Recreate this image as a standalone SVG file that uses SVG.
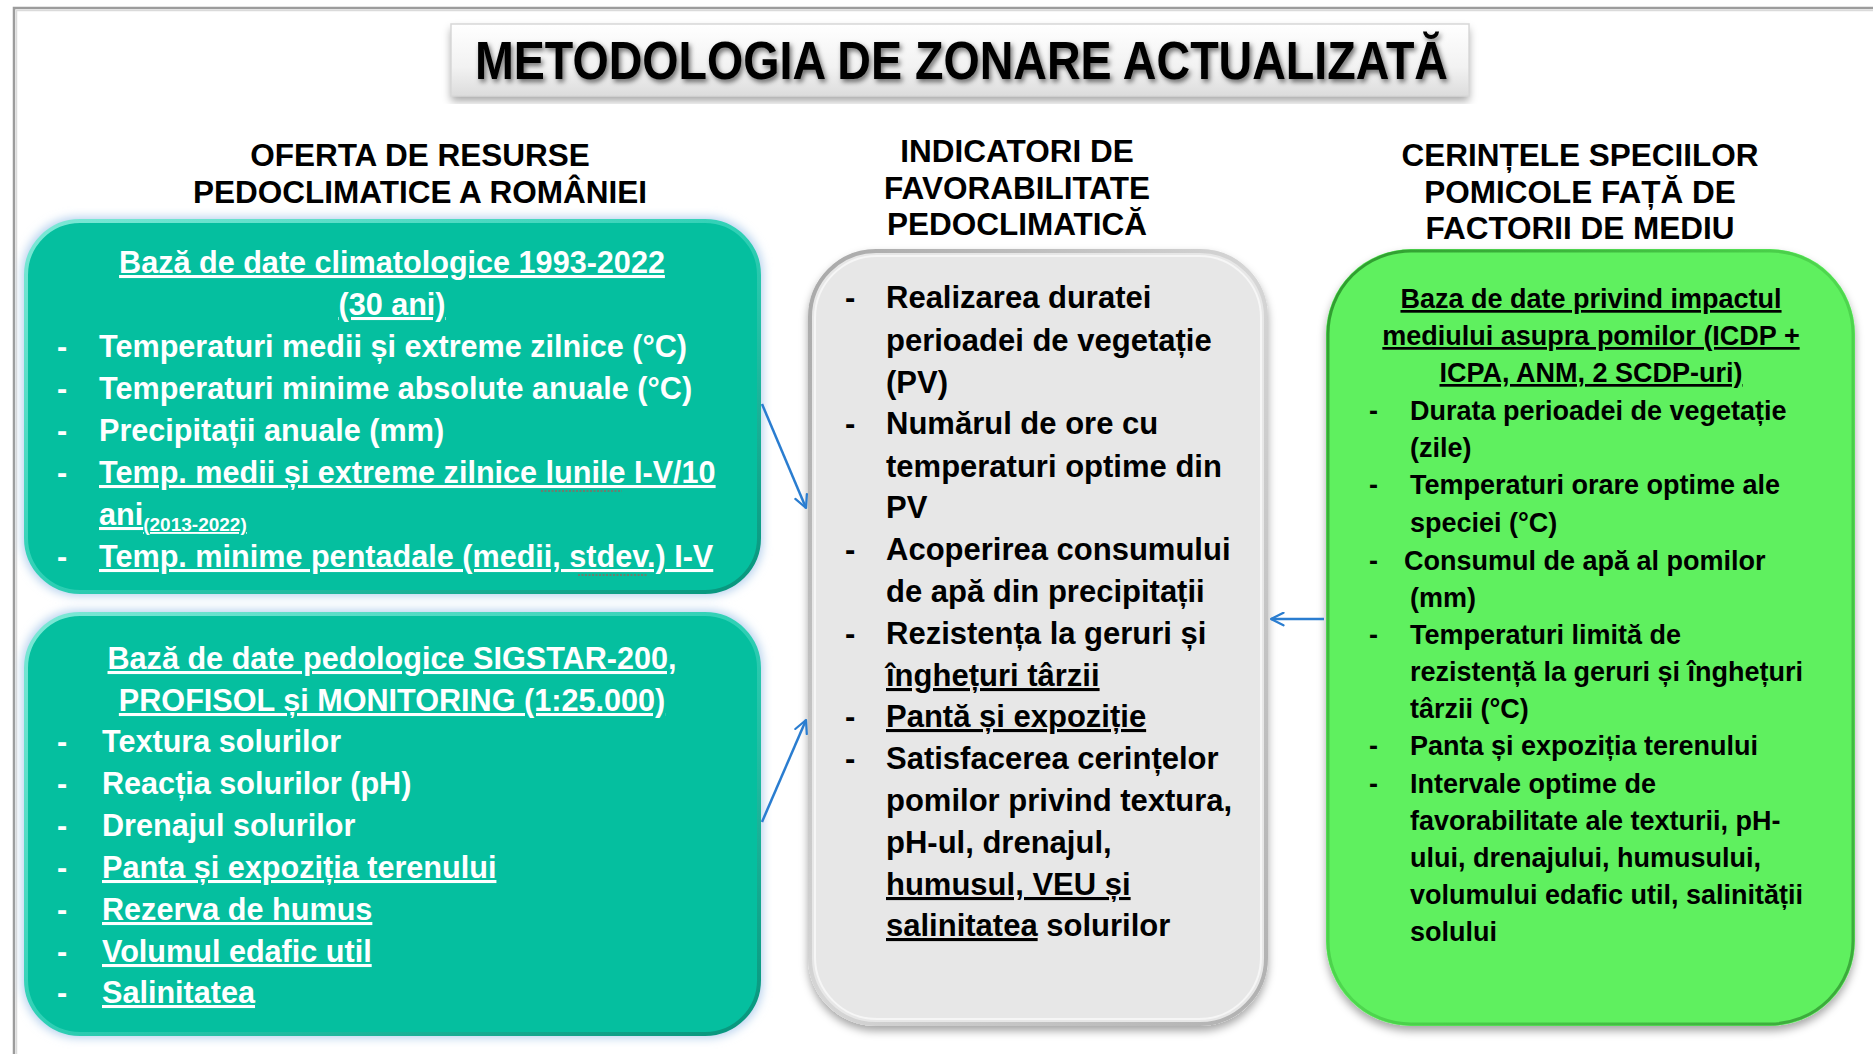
<svg xmlns="http://www.w3.org/2000/svg" width="1873" height="1054" viewBox="0 0 1873 1054">
<defs>
<style>
.hdr{font-family:"Liberation Sans",Arial,sans-serif;font-weight:bold;font-size:31.5px;fill:#000;text-anchor:middle}
.lt{font-family:"Liberation Sans",Arial,sans-serif;font-weight:bold;font-size:30.6px;fill:#fff}
.mt{font-family:"Liberation Sans",Arial,sans-serif;font-weight:bold;font-size:31px;fill:#000}
.rt{font-family:"Liberation Sans",Arial,sans-serif;font-weight:bold;font-size:27px;fill:#000}
.c{text-anchor:middle}
.u{text-decoration:underline}
.conn{fill:none;stroke:#2a7dd0;stroke-width:2.5}
.squig{fill:none;stroke:#d04040;stroke-width:1.2;stroke-dasharray:2 1.5}
</style>
<linearGradient id="titleG" x1="0" y1="0" x2="0" y2="1">
<stop offset="0" stop-color="#ffffff"/><stop offset="0.6" stop-color="#f2f2f2"/><stop offset="1" stop-color="#dcdcdc"/>
</linearGradient>
<linearGradient id="tealEdge" x1="0" y1="0" x2="1" y2="1">
<stop offset="0" stop-color="#7de8d6"/><stop offset="0.5" stop-color="#2fd0b5"/><stop offset="1" stop-color="#07957c"/>
</linearGradient>
<linearGradient id="grayEdge" x1="0" y1="0" x2="1" y2="1">
<stop offset="0" stop-color="#a8a8a8"/><stop offset="0.5" stop-color="#d6d6d6"/><stop offset="1" stop-color="#b0b0b0"/>
</linearGradient>
<linearGradient id="greenEdge" x1="0" y1="0" x2="1" y2="1">
<stop offset="0" stop-color="#2e9a2e"/><stop offset="0.5" stop-color="#4fd84f"/><stop offset="1" stop-color="#3aa83a"/>
</linearGradient>
<filter id="glow" x="-10%" y="-10%" width="120%" height="120%"><feGaussianBlur stdDeviation="5"/></filter>
<filter id="shadow" x="-10%" y="-10%" width="120%" height="120%"><feDropShadow dx="0" dy="5" stdDeviation="4" flood-color="#000" flood-opacity="0.35"/></filter>
<filter id="tshadow" x="-5%" y="-30%" width="110%" height="160%"><feDropShadow dx="2" dy="3" stdDeviation="2.5" flood-color="#000" flood-opacity="0.55"/></filter>
<marker id="arr" viewBox="0 0 12 12" refX="11" refY="6" markerWidth="15" markerHeight="15" markerUnits="userSpaceOnUse" orient="auto">
<path d="M1,1 L11,6 L1,11" fill="none" stroke="#2a7dd0" stroke-width="1.8" stroke-linecap="round" stroke-linejoin="round"/>
</marker>
</defs>
<rect x="0" y="0" width="1873" height="1054" fill="#fff"/>
<path d="M14,1054 V8 H1873" fill="none" stroke="#9c9c9c" stroke-width="2.5"/>
<path d="M16.5,1054 V10.5 H1873" fill="none" stroke="#dadada" stroke-width="1.5"/>

<g id="title">
<rect x="451" y="24" width="1018" height="72" fill="url(#titleG)" filter="url(#shadow)"/>
<rect x="451" y="24" width="1018" height="72" fill="none" stroke="#d8d8d8" stroke-width="1.5"/>
<text x="475" y="79" textLength="973" lengthAdjust="spacingAndGlyphs" font-family="'Liberation Sans',Arial,sans-serif" font-weight="bold" font-size="53" fill="#000" filter="url(#tshadow)">METODOLOGIA DE ZONARE ACTUALIZATĂ</text>
</g>

<g id="header-left">
<text class="hdr" x="420" y="166">OFERTA DE RESURSE</text>
<text class="hdr" x="420" y="203">PEDOCLIMATICE A ROMÂNIEI</text>
</g>
<g id="header-middle">
<text class="hdr" x="1017" y="162">INDICATORI DE</text>
<text class="hdr" x="1017" y="199">FAVORABILITATE</text>
<text class="hdr" x="1017" y="235">PEDOCLIMATICĂ</text>
</g>
<g id="header-right">
<text class="hdr" x="1580" y="166">CERINȚELE SPECIILOR</text>
<text class="hdr" x="1580" y="203">POMICOLE FAȚĂ DE</text>
<text class="hdr" x="1580" y="239">FACTORII DE MEDIU</text>
</g>

<g id="box-climate">
<rect x="22" y="217" width="741" height="379" rx="56" fill="#b7d2ee" filter="url(#glow)"/>
<rect x="26" y="221" width="733" height="371" rx="54" fill="#05bf9f" stroke="url(#tealEdge)" stroke-width="4"/>
<text class="lt c u" x="392" y="273">Bază de date climatologice 1993-2022</text>
<text class="lt c u" x="392" y="315">(30 ani)</text>
<text class="lt" x="57" y="357">-</text><text class="lt" x="99" y="357">Temperaturi medii și extreme zilnice (°C)</text>
<text class="lt" x="57" y="399">-</text><text class="lt" x="99" y="399">Temperaturi minime absolute anuale (°C)</text>
<text class="lt" x="57" y="441">-</text><text class="lt" x="99" y="441">Precipitații anuale (mm)</text>
<text class="lt" x="57" y="483">-</text><text class="lt u" x="99" y="483">Temp. medii și extreme zilnice lunile I-V/10</text>
<text class="lt u" x="99" y="525">ani<tspan font-size="19" dy="6">(2013-2022)</tspan></text>
<text class="lt" x="57" y="567">-</text><text class="lt u" x="99" y="567">Temp. minime pentadale (medii, stdev.) I-V</text>
<path class="squig" d="M541,491 H622"/>
<path class="squig" d="M578,575 H648"/>
</g>

<g id="box-soil">
<rect x="22" y="610" width="741" height="428" rx="56" fill="#b7d2ee" filter="url(#glow)"/>
<rect x="26" y="614" width="733" height="420" rx="54" fill="#05bf9f" stroke="url(#tealEdge)" stroke-width="4"/>
<text class="lt c u" x="392" y="669">Bază de date pedologice SIGSTAR-200,</text>
<text class="lt c u" x="392" y="711">PROFISOL și MONITORING (1:25.000)</text>
<text class="lt" x="57" y="752">-</text><text class="lt" x="102" y="752">Textura solurilor</text>
<text class="lt" x="57" y="794">-</text><text class="lt" x="102" y="794">Reacția solurilor (pH)</text>
<text class="lt" x="57" y="836">-</text><text class="lt" x="102" y="836">Drenajul solurilor</text>
<text class="lt" x="57" y="878">-</text><text class="lt u" x="102" y="878">Panta și expoziția terenului</text>
<text class="lt" x="57" y="920">-</text><text class="lt u" x="102" y="920">Rezerva de humus</text>
<text class="lt" x="57" y="962">-</text><text class="lt u" x="102" y="962">Volumul edafic util</text>
<text class="lt" x="57" y="1003">-</text><text class="lt u" x="102" y="1003">Salinitatea</text>
</g>

<g id="box-indicators">
<rect x="808" y="249" width="460" height="777" rx="68" fill="#e7e7e7" filter="url(#shadow)"/>
<rect x="810" y="251" width="456" height="773" rx="66" fill="#e7e7e7" stroke="url(#grayEdge)" stroke-width="4"/>
<rect x="815" y="256" width="446" height="763" rx="62" fill="none" stroke="#f6f6f6" stroke-width="2"/>
<text class="mt" x="845" y="308">-</text><text class="mt" x="886" y="308">Realizarea duratei</text>
<text class="mt" x="886" y="351">perioadei de vegetație</text>
<text class="mt" x="886" y="393">(PV)</text>
<text class="mt" x="845" y="434">-</text><text class="mt" x="886" y="434">Numărul de ore cu</text>
<text class="mt" x="886" y="477">temperaturi optime din</text>
<text class="mt" x="886" y="518">PV</text>
<text class="mt" x="845" y="560">-</text><text class="mt" x="886" y="560">Acoperirea consumului</text>
<text class="mt" x="886" y="602">de apă din precipitații</text>
<text class="mt" x="845" y="644">-</text><text class="mt" x="886" y="644">Rezistența la geruri și</text>
<text class="mt u" x="886" y="686">înghețuri târzii</text>
<text class="mt" x="845" y="727">-</text><text class="mt u" x="886" y="727">Pantă și expoziție</text>
<text class="mt" x="845" y="769">-</text><text class="mt" x="886" y="769">Satisfacerea cerințelor</text>
<text class="mt" x="886" y="811">pomilor privind textura,</text>
<text class="mt" x="886" y="853">pH-ul, drenajul,</text>
<text class="mt u" x="886" y="895">humusul, VEU și</text>
<text class="mt" x="886" y="936"><tspan class="u">salinitatea</tspan> solurilor</text>
</g>

<g id="box-requirements">
<rect x="1326" y="249" width="529" height="777" rx="85" fill="#5ff05f" filter="url(#shadow)"/>
<rect x="1328" y="251" width="525" height="773" rx="83" fill="#5ff05f" stroke="url(#greenEdge)" stroke-width="3"/>
<text class="rt c u" x="1591" y="308">Baza de date privind impactul</text>
<text class="rt c u" x="1591" y="345">mediului asupra pomilor (ICDP +</text>
<text class="rt c u" x="1591" y="382">ICPA, ANM, 2 SCDP-uri)</text>
<text class="rt" x="1369" y="420">-</text><text class="rt" x="1410" y="420">Durata perioadei de vegetație</text>
<text class="rt" x="1410" y="457">(zile)</text>
<text class="rt" x="1369" y="494">-</text><text class="rt" x="1410" y="494">Temperaturi orare optime ale</text>
<text class="rt" x="1410" y="532">speciei (°C)</text>
<text class="rt" x="1369" y="570">-</text><text class="rt" x="1404" y="570">Consumul de apă al pomilor</text>
<text class="rt" x="1410" y="607">(mm)</text>
<text class="rt" x="1369" y="644">-</text><text class="rt" x="1410" y="644">Temperaturi limită de</text>
<text class="rt" x="1410" y="681">rezistență la geruri și înghețuri</text>
<text class="rt" x="1410" y="718">târzii (°C)</text>
<text class="rt" x="1369" y="755">-</text><text class="rt" x="1410" y="755">Panta și expoziția terenului</text>
<text class="rt" x="1369" y="793">-</text><text class="rt" x="1410" y="793">Intervale optime de</text>
<text class="rt" x="1410" y="830">favorabilitate ale texturii, pH-</text>
<text class="rt" x="1410" y="867">ului, drenajului, humusului,</text>
<text class="rt" x="1410" y="904">volumului edafic util, salinității</text>
<text class="rt" x="1410" y="941">solului</text>
</g>

<g id="connectors">
<path class="conn" d="M762,404 L806,508" marker-end="url(#arr)"/>
<path class="conn" d="M762,822 L806,720" marker-end="url(#arr)"/>
<path class="conn" d="M1324,619 L1271,619" marker-end="url(#arr)"/>
</g>
</svg>
